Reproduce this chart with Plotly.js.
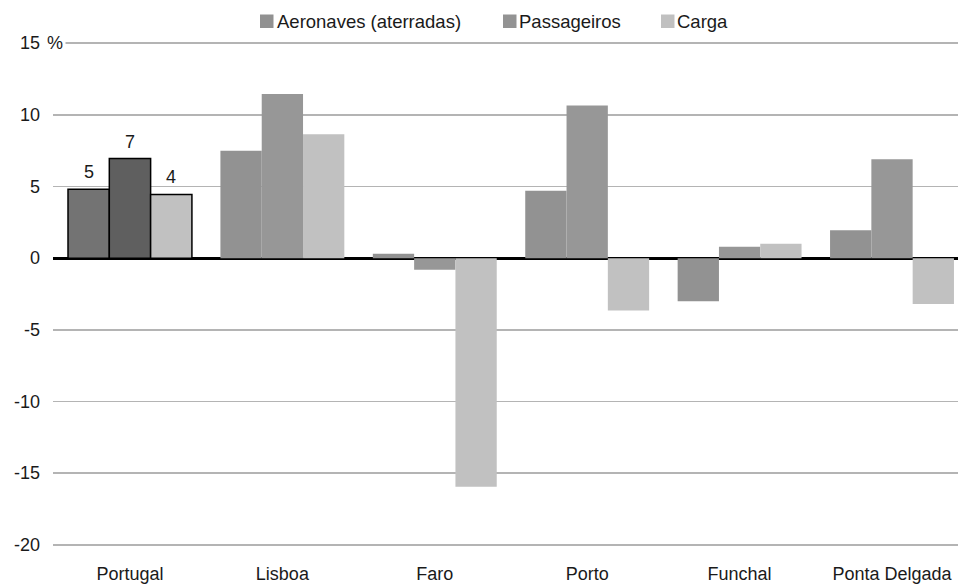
<!DOCTYPE html>
<html>
<head>
<meta charset="utf-8">
<script src="https://cdn.plot.ly/plotly-3.0.1.min.js"></script>
<style>html,body{margin:0;padding:0;background:#fff;}#chart{width:958px;height:587px;}</style>
</head>
<body>
<div id="chart"></div>
<script>
const categories = ["Portugal", "Lisboa", "Faro", "Porto", "Funchal", "Ponta Delgada"];
const seriesNames = ["Aeronaves (aterradas)", "Passageiros", "Carga"];
const aeronaves = [4.8, 7.5, 0.3, 4.7, -3.0, 1.95];
const passageiros = [6.95, 11.45, -0.8, 10.65, 0.8, 6.9];
const carga = [4.45, 8.65, -15.95, -3.65, 1.0, -3.2];
const totalLabels = ["5", "7", "4"];
const yTickVals = [-20, -15, -10, -5, 0, 5, 10, 15];
const yTickText = ["-20", "-15", "-10", "-5", "0", "5", "10", "15"];

const series = [aeronaves, passageiros, carga];
const mainColors = ["#929292", "#979797", "#c1c1c1"];
const legendColors = ["#919191", "#939393", "#c0c0c0"];
const totalColors = ["#737373", "#5f5f5f", "#c1c1c1"];
const font = {family: "Liberation Sans, Arial, sans-serif", size: 18, color: "#1a1a1a"};
const legendFont = {family: "Liberation Sans, Arial, sans-serif", size: 18.5, color: "#1a1a1a"};

const W = 958, H = 587;
const M = {l: 53, r: 0, t: 41, b: 40};
const xRange = [-0.505, 5.433];
const bargap = 0.187;

const traces = [];
series.forEach((vals, i) => {
  traces.push({
    type: "bar",
    x: categories.slice(0, 1),
    y: vals.slice(0, 1),
    name: seriesNames[i],
    offsetgroup: "g" + i,
    showlegend: false,
    marker: {color: totalColors[i], line: {color: "#000", width: 1.5}},
    hoverinfo: "skip"
  });
  traces.push({
    type: "bar",
    x: categories.slice(1),
    y: vals.slice(1),
    name: seriesNames[i],
    offsetgroup: "g" + i,
    showlegend: false,
    marker: {color: mainColors[i], line: {width: 0}},
    hoverinfo: "skip"
  });
});

const plotW = W - M.l - M.r;
const plotH = H - M.t - M.b;
const catPx = plotW / (xRange[1] - xRange[0]);
const barW = catPx * (1 - bargap) / series.length;
const px2x = p => (p - M.l) / plotW;
const px2y = p => (H - M.b - p) / plotH;

const annotations = [];
const shapes = [];
series.forEach((vals, i) => {
  annotations.push({
    xref: "x", yref: "y", x: categories[0], y: vals[0],
    xshift: (i - 1) * barW, yshift: 5, yanchor: "bottom", xanchor: "center",
    text: totalLabels[i], showarrow: false, font: font
  });
});
annotations.push({xref: "paper", yref: "y", x: 0, y: 15, xshift: -9, xanchor: "left", yanchor: "middle",
                  text: "%", showarrow: false, font: font, bgcolor: "#fff", borderpad: 2});

// legend (swatch + label)
const legendSwatchX = [260, 503, 661];
const legendTextX = [276, 518, 676];
seriesNames.forEach((nm, i) => {
  shapes.push({type: "rect", xref: "paper", yref: "paper",
               x0: px2x(legendSwatchX[i]), x1: px2x(legendSwatchX[i] + 13.5),
               y0: px2y(28), y1: px2y(14.5),
               fillcolor: legendColors[i], line: {width: 0}, layer: "above"});
  annotations.push({xref: "paper", yref: "paper", x: px2x(legendTextX[i]), y: px2y(22),
                    xanchor: "left", yanchor: "middle", text: nm, showarrow: false,
                    font: legendFont, borderpad: 0});
});

const layout = {
  width: W, height: H,
  margin: M,
  paper_bgcolor: "#fff", plot_bgcolor: "#fff",
  font: font,
  barmode: "group",
  bargap: bargap,
  bargroupgap: 0,
  showlegend: false,
  xaxis: {type: "category", categoryarray: categories, range: xRange, showgrid: false, showline: false,
          ticks: "", tickfont: font, ticklabelstandoff: 14, zeroline: false},
  yaxis: {range: [-20.15, 15.15], tickvals: yTickVals, ticktext: yTickText, showgrid: true,
          gridcolor: "#b4b4b4", gridwidth: 1.5, zeroline: true, zerolinecolor: "#000",
          zerolinewidth: 3, showline: false, ticks: "", tickfont: font, ticklabelstandoff: 12},
  annotations: annotations,
  shapes: shapes
};

Plotly.newPlot("chart", traces, layout, {displayModeBar: false, staticPlot: true});
</script>
</body>
</html>
